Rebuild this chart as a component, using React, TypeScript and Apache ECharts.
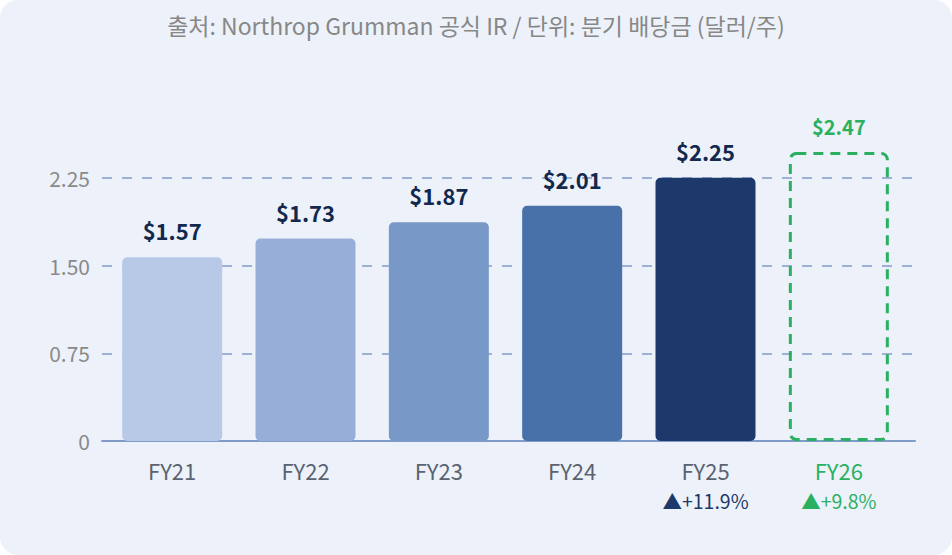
import React, { useEffect, useRef } from "react";
import * as echarts from "echarts";

const categories = ["FY21", "FY22", "FY23", "FY24", "FY25", "FY26"];
const dividends = [1.57, 1.73, 1.87, 2.01, 2.25, 2.47];
const growth = ["", "", "", "", "+11.9%", "+9.8%"];
const barColors = ["#b8c9e8", "#97afd8", "#7899c7", "#4870a9", "#1d396b", "transparent"];
const yMax = 3;
const yInterval = 0.75;
const titleText = "출처: Northrop Grumman 공식 IR / 단위: 분기 배당금 (달러/주)";

const FONT = "'Noto Sans CJK KR', 'Noto Sans', sans-serif";
const GREEN = "#2bb062";
const NAVY = "#1d396b";

export default function App() {
  const ref = useRef<HTMLDivElement>(null);
  useEffect(() => {
    if (!ref.current) return;
    const chart = echarts.init(ref.current, undefined, { renderer: "svg" });
    const forecastIndex = categories.length - 1;
    const option: any = {
      animation: false,
      backgroundColor: "transparent",
      textStyle: { fontFamily: FONT },
      title: {
        text: titleText,
        left: "center",
        top: 8,
        textStyle: { fontFamily: FONT, fontSize: 23, fontWeight: "normal", color: "#878787" },
      },
      grid: [
        { left: 102, right: 37, top: 90, bottom: 114 },
        { left: 105.5, right: 46.5, top: 90, bottom: 114 },
      ],
      xAxis: [
        {
          type: "category",
          gridIndex: 0,
          data: categories,
          axisLine: { show: true, lineStyle: { color: "#7f9cc8", width: 2 } },
          axisTick: { show: false },
          axisLabel: { show: false },
          splitLine: { show: false },
        },
        {
          type: "category",
          gridIndex: 1,
          data: categories,
          axisLine: { show: false },
          axisTick: { show: false },
          axisLabel: {
            margin: 16,
            interval: 0,
            formatter: (v: string, i: number) => {
              const isF = i === forecastIndex;
              const name = isF ? `{fname|${v}}` : `{name|${v}}`;
              if (!growth[i]) return name;
              return isF ? `${name}\n{fup|▲${growth[i]}}` : `${name}\n{up|▲${growth[i]}}`;
            },
            rich: {
              name: { fontFamily: FONT, fontSize: 22, color: "#5b6270", lineHeight: 25 },
              fname: { fontFamily: FONT, fontSize: 22, color: GREEN, lineHeight: 25 },
              up: { fontFamily: FONT, fontSize: 19.5, color: NAVY, lineHeight: 36 },
              fup: { fontFamily: FONT, fontSize: 19.5, color: GREEN, lineHeight: 36 },
            },
          },
        },
      ],
      yAxis: [
        {
          type: "value",
          gridIndex: 0,
          min: 0,
          max: yMax,
          interval: yInterval,
          axisLine: { show: false },
          axisTick: { show: false },
          axisLabel: {
            showMaxLabel: false,
            margin: 12,
            fontFamily: FONT,
            fontSize: 21,
            color: "#8a8a8a",
            formatter: (v: number) => (v === 0 ? "0" : v.toFixed(2)),
          },
          splitLine: {
            show: true,
            showMinLine: false,
            showMaxLine: false,
            lineStyle: { color: "#9eb0d8", width: 2, type: [10, 10] },
          },
        },
        {
          type: "value",
          gridIndex: 1,
          min: 0,
          max: yMax,
          interval: yInterval,
          show: false,
          splitLine: { show: false },
        },
      ],
      series: [
        {
          type: "bar",
          xAxisIndex: 1,
          yAxisIndex: 1,
          barWidth: 100,
          z: 1,
          data: dividends.map((v, i) => {
            const isF = i === forecastIndex;
            return {
              value: v,
              itemStyle: isF
                ? {
                    color: "transparent",
                    borderColor: GREEN,
                    borderWidth: 3,
                    borderType: [10, 7],
                    borderRadius: 6,
                  }
                : { color: barColors[i], borderRadius: 5 },
              label: isF
                ? { color: GREEN, fontSize: 20, distance: 16 }
                : { color: "#13284d", fontSize: 22, distance: 16 },
            };
          }),
          label: {
            show: true,
            position: "top",
            fontFamily: FONT,
            fontWeight: "bold",
            formatter: (p: any) => `$${Number(p.value).toFixed(2)}`,
          },
        },
      ],
    };
    chart.setOption(option);
    return () => chart.dispose();
  }, []);
  return (
    <div
      style={{
        position: "fixed",
        left: 0,
        top: 0,
        width: 952,
        height: 555,
        background: "#edf2fa",
        borderRadius: 18,
        overflow: "hidden",
      }}
    >
      <div ref={ref} style={{ width: 952, height: 555 }} />
    </div>
  );
}
